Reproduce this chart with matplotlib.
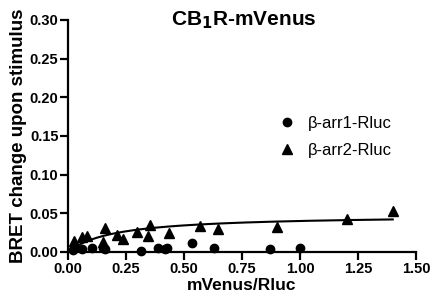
import numpy as np
import matplotlib.pyplot as plt

plt.rcParams['font.family'] = ['Liberation Sans', 'DejaVu Sans']

# beta-arrestin1 (circles)
arr1_x = [0.02, 0.025, 0.062, 0.104, 0.15, 0.16, 0.315, 0.387, 0.416, 0.428, 0.536, 0.628, 0.87, 1.00]
arr1_y = [0.003, 0.005, 0.0035, 0.0056, 0.0056, 0.004, 0.0017, 0.0048, 0.0035, 0.0056, 0.0113, 0.0048, 0.0039, 0.0056]

# beta-arrestin2 (triangles)
arr2_x = [0.025, 0.062, 0.083, 0.15, 0.16, 0.21, 0.237, 0.297, 0.343, 0.355, 0.435, 0.57, 0.648, 0.899, 1.203, 1.40]
arr2_y = [0.0147, 0.019, 0.021, 0.013, 0.031, 0.022, 0.0165, 0.0256, 0.021, 0.035, 0.025, 0.033, 0.0295, 0.032, 0.043, 0.053]

# one-site hyperbolic fit for arr2
bmax = 0.048
kd = 0.2

x_ticks = [0.00, 0.25, 0.50, 0.75, 1.00, 1.25, 1.50]
y_ticks = [0.00, 0.05, 0.10, 0.15, 0.20, 0.25, 0.30]

fig = plt.figure(figsize=(4.31, 3.05), dpi=100)
ax = fig.add_axes([0.158, 0.174, 0.807, 0.761])

ax.plot(arr1_x, arr1_y, 'o', color='black', markersize=6, clip_on=False, label='β-arr1-Rluc')
ax.plot(arr2_x, arr2_y, '^', color='black', markersize=6.5, clip_on=False, label='β-arr2-Rluc')

xf = np.linspace(0.02, 1.40, 200)
ax.plot(xf, bmax * xf / (kd + xf), color='black', linewidth=1.5)

ax.set_xlim(0, 1.5)
ax.set_ylim(0, 0.30)
ax.set_xticks(x_ticks)
ax.set_yticks(y_ticks)
ax.set_xticklabels([f'{t:.2f}' for t in x_ticks], fontweight='bold', fontsize=10.5)
ax.set_yticklabels([f'{t:.2f}' for t in y_ticks], fontweight='bold', fontsize=10.5)

for s in ['top', 'right']:
    ax.spines[s].set_visible(False)
for s in ['left', 'bottom']:
    ax.spines[s].set_linewidth(1.6)
ax.tick_params(direction='out', width=1.6, length=5.5, pad=1.5)

ax.set_xlabel('mVenus/Rluc', fontweight='bold', fontsize=12.5, labelpad=2)
ax.set_ylabel('BRET change upon stimulus', fontweight='bold', fontsize=13.5, labelpad=2)
ax.text(0.506, 1.0, r'CB$_\mathbf{1}$R-mVenus', transform=ax.transAxes, ha='center', va='center',
        fontweight='bold', fontsize=15)

ax.legend(loc='upper left', bbox_to_anchor=(0.605, 0.587), frameon=False, fontsize=12,
          borderpad=0, borderaxespad=0, handletextpad=0.75, labelspacing=0.72, handlelength=1.0)

fig.savefig('out.png', dpi=100)
